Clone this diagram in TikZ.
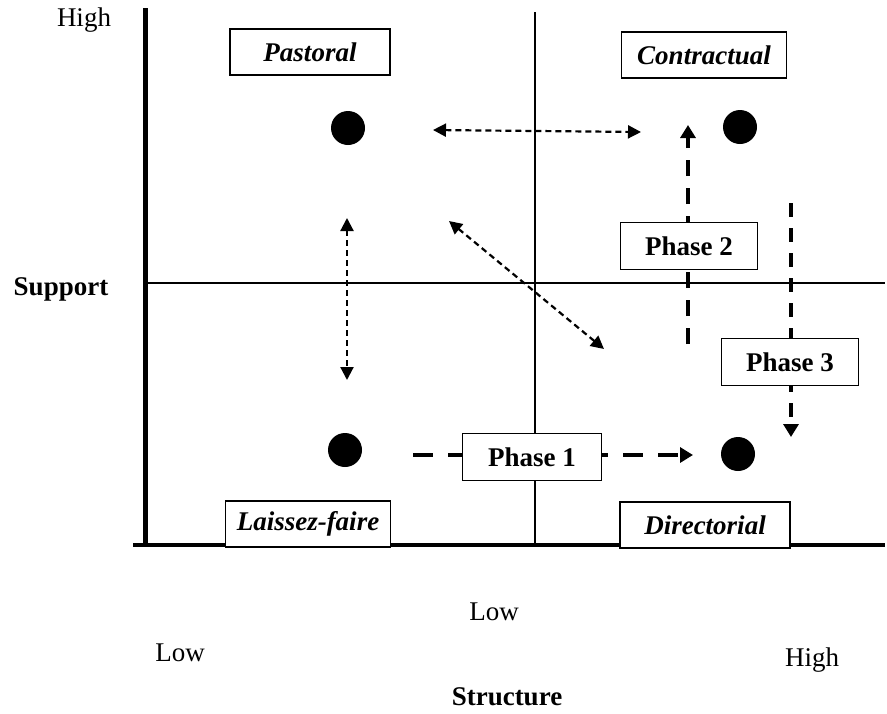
\documentclass[tikz,border=0pt]{standalone}
\usepackage{fontspec}
\setmainfont{Liberation Serif}
\usetikzlibrary{arrows.meta}
\begin{document}
\begin{tikzpicture}[x=1pt,y=-1pt,
  quad/.style={draw,line width=1.2pt,fill=white,minimum width=160pt,minimum height=46pt,font=\fontsize{27}{32}\selectfont\bfseries\itshape},
  phasebox/.style={draw,line width=1.2pt,fill=white,minimum width=137pt,minimum height=47pt,font=\fontsize{27}{32}\selectfont\bfseries},
  dot/.style={circle,fill=black,minimum size=34pt,inner sep=0pt},
  lab/.style={font=\fontsize{27}{32}\selectfont},
  blab/.style={font=\fontsize{27}{32}\selectfont\bfseries},
  dotarrow/.style={line width=2.2pt,dash pattern=on 6pt off 4pt,{Triangle[length=13pt,width=13pt]}-{Triangle[length=13pt,width=13pt]}},
  phasearrow/.style={line width=4.5pt,dash pattern=on 16pt off 12pt,-{Triangle[length=13pt,width=15pt]}}
]
\useasboundingbox (0,0) rectangle (887,713);
% axes
\coordinate (ytop) at (145,8);
\coordinate (origin) at (145,545);
\coordinate (xend) at (885,545);
\coordinate (xstart) at (133,545);
\coordinate (vtop) at (535,12);
\coordinate (vbot) at (535,545);
\coordinate (hl) at (145,283);
\coordinate (hr) at (885,283);
\draw[line width=1.2pt] (vtop) -- (vbot);
\draw[line width=1.2pt] (hl) -- (hr);
\draw[line width=5pt] (ytop) -- (origin);
\draw[line width=4pt] (xstart) -- (xend);
% axis labels
\node[lab] (high1) at (84,20) {High};
\node[blab] (support) at (61,289) {Support};
\node[lab] (low1) at (494,612) {Low};
\node[lab] (low2) at (180,653) {Low};
\node[lab] (high2) at (812,660) {High};
\node[blab] (structure) at (507,697) {Structure};
% quadrant boxes
\node[quad] (past) at (310,52) {Pastoral};
\node[quad,minimum width=165pt] (contr) at (704,55) {Contractual};
\node[quad,minimum width=165pt] (laiss) at (308,524) {Laissez-faire};
\node[quad,minimum width=170pt] (direc) at (705,525) {Directorial};
% dots
\node[dot] (d1) at (348,128) {};
\node[dot] (d2) at (740,127) {};
\node[dot] (d3) at (345,450) {};
\node[dot] (d4) at (738,454) {};
% dotted double arrows
\coordinate (a1s) at (433,130);
\coordinate (a1e) at (641,132);
\draw[dotarrow] (a1s) -- (a1e);
\coordinate (a2s) at (347,218);
\coordinate (a2e) at (347,380);
\draw[dotarrow] (a2s) -- (a2e);
\coordinate (a3s) at (449,221);
\coordinate (a3e) at (604,349);
\draw[dotarrow] (a3s) -- (a3e);
% phase arrows
\coordinate (p2s) at (688,344);
\coordinate (p2e) at (688,125);
\draw[phasearrow] (p2s) -- (p2e);
\coordinate (p3s) at (791,203);
\coordinate (p3e) at (791,437);
\draw[phasearrow,dash pattern=on 14pt off 11pt] (p3s) -- (p3e);
\coordinate (p1s) at (413,455);
\coordinate (p1e) at (693,455);
\draw[phasearrow,dash pattern=on 20pt off 15pt] (p1s) -- (p1e);
% phase boxes
\node[phasebox] (ph2) at (689,246) {Phase 2};
\node[phasebox] (ph3) at (790,362) {Phase 3};
\node[phasebox,minimum width=139pt] (ph1) at (532,457) {Phase 1};
\end{tikzpicture}
\end{document}
